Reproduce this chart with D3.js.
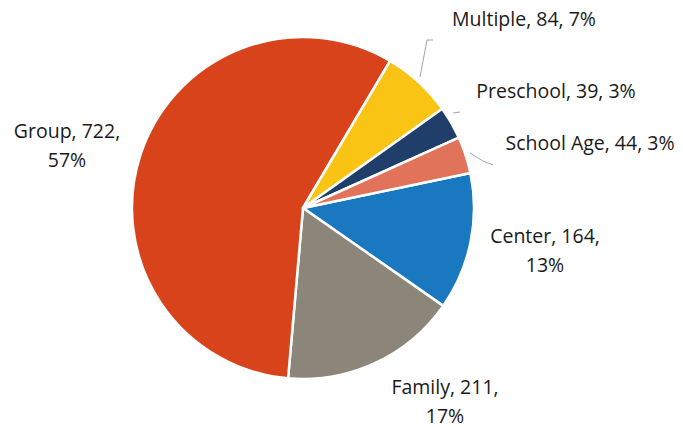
<!DOCTYPE html>
<html>
<head>
<meta charset="utf-8">
<script src="https://cdn.jsdelivr.net/npm/d3@7"></script>
<style>
html,body{margin:0;padding:0;background:#fff;}
svg{display:block;}
text{font-family:"Open Sans","Noto Sans",sans-serif;fill:#1a1a1a;}
</style>
</head>
<body>
<svg id="chart" width="683" height="427"></svg>
<script>
const categories = ["Center", "Family", "Group", "Multiple", "Preschool", "School Age"];
const values = [164, 211, 722, 84, 39, 44];
const percents = ["13%", "17%", "57%", "7%", "3%", "3%"];
const colors = ["#1a78c0", "#8b8679", "#d8431c", "#f9c414", "#1f3e6a", "#e0735a"];

// label layout (anchor, lines)
const labelLayout = {
  "Center":     {x: 545, y: 243, split: true},
  "Family":     {x: 445, y: 394, split: true},
  "Group":      {x: 67,  y: 138, split: true},
  "Multiple":   {x: 524, y: 26,  split: false},
  "Preschool":  {x: 556, y: 98,  split: false},
  "School Age": {x: 590, y: 150, split: false}
};
const leaders = {
  "Multiple":   [[420, 77], [427, 40], [433, 40]],
  "Preschool":  [[453, 113], [460, 112]],
  "School Age": [[470, 153], [483, 161], [493, 165]]
};

const svg = d3.select("#chart");
const cx = 303, cy = 208, R = 171;
const data = categories.map((c, i) => ({cat: c, value: values[i], pct: percents[i], color: colors[i]}));

const startA = 78.2 * Math.PI / 180;
const pie = d3.pie().sort(null).value(d => d.value).startAngle(startA).endAngle(startA + 2 * Math.PI);
const arc = d3.arc().innerRadius(0).outerRadius(R);

const g = svg.append("g").attr("transform", `translate(${cx},${cy})`);
g.selectAll("path").data(pie(data)).enter().append("path")
  .attr("d", arc)
  .attr("fill", d => d.data.color)
  .attr("stroke", "#fff")
  .attr("stroke-width", 2.5)
  .attr("stroke-linejoin", "round");

const line = d3.line();
Object.keys(leaders).forEach(k => {
  svg.append("path").attr("d", line(leaders[k]))
    .attr("fill", "none").attr("stroke", "#9a9a9a").attr("stroke-width", 0.9);
});

data.forEach(d => {
  const L = labelLayout[d.cat];
  const t = svg.append("text").attr("x", L.x).attr("y", L.y)
    .attr("text-anchor", "middle").attr("font-size", 19.5);
  if (L.split) {
    t.append("tspan").attr("x", L.x).text(`${d.cat}, ${d.value},`);
    t.append("tspan").attr("x", L.x).attr("dy", 28.5).text(d.pct);
  } else {
    t.text(`${d.cat}, ${d.value}, ${d.pct}`);
  }
});
</script>
</body>
</html>
